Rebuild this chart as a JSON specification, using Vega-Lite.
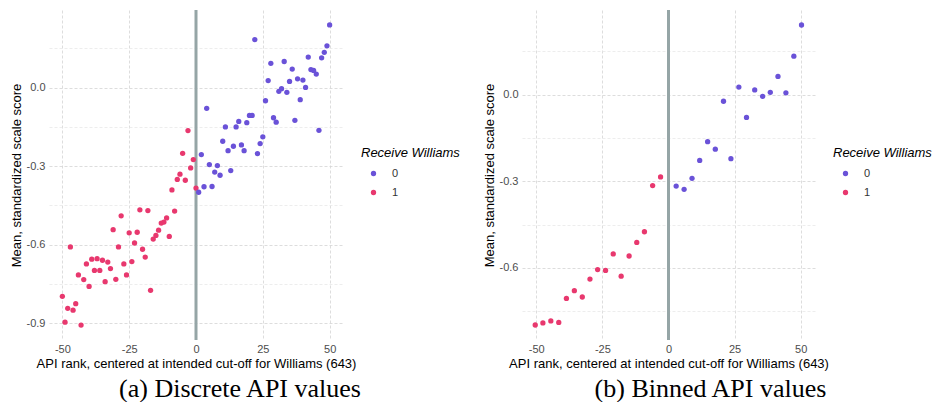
{
  "$schema": "https://vega.github.io/schema/vega-lite/v6.json",
  "padding": {"left": 10, "top": 8, "right": 2, "bottom": 0},
  "background": "white",
  "config": {
    "view": {"stroke": null},
    "font": "Liberation Sans",
    "axis": {
      "domain": false,
      "ticks": false,
      "grid": true,
      "labelColor": "#4d4d4d",
      "labelFontSize": 11,
      "labelFont": "Liberation Sans",
      "titleFont": "Liberation Sans",
      "titleFontSize": 13,
      "titleFontWeight": "normal",
      "titleColor": "#000000",
      "gridDash": [3, 2],
      "gridWidth": 0.8
    },
    "legend": {
      "titleFont": "Liberation Sans",
      "titleFontSize": 13,
      "titleFontStyle": "italic",
      "titleFontWeight": "normal",
      "titleColor": "#000000",
      "labelFont": "Liberation Sans",
      "labelFontSize": 11,
      "labelColor": "#333333",
      "symbolSize": 28,
      "symbolType": "circle",
      "rowPadding": 7,
      "titlePadding": 8,
      "symbolOffset": 7,
      "labelOffset": 13
    }
  },
  "resolve": {"scale": {"color": "independent"}, "legend": {"color": "independent"}},
  "datasets": {
    "discrete": [
      {"api": -50, "score": -0.798, "williams": "1"},
      {"api": -49, "score": -0.897, "williams": "1"},
      {"api": -48, "score": -0.844, "williams": "1"},
      {"api": -47, "score": -0.609, "williams": "1"},
      {"api": -46, "score": -0.851, "williams": "1"},
      {"api": -45, "score": -0.826, "williams": "1"},
      {"api": -44, "score": -0.716, "williams": "1"},
      {"api": -43, "score": -0.908, "williams": "1"},
      {"api": -42, "score": -0.734, "williams": "1"},
      {"api": -41, "score": -0.674, "williams": "1"},
      {"api": -40, "score": -0.760, "williams": "1"},
      {"api": -39, "score": -0.656, "williams": "1"},
      {"api": -38, "score": -0.699, "williams": "1"},
      {"api": -37, "score": -0.654, "williams": "1"},
      {"api": -36, "score": -0.699, "williams": "1"},
      {"api": -35, "score": -0.660, "williams": "1"},
      {"api": -34, "score": -0.742, "williams": "1"},
      {"api": -33, "score": -0.667, "williams": "1"},
      {"api": -32, "score": -0.692, "williams": "1"},
      {"api": -31, "score": -0.543, "williams": "1"},
      {"api": -30, "score": -0.733, "williams": "1"},
      {"api": -29, "score": -0.609, "williams": "1"},
      {"api": -28, "score": -0.490, "williams": "1"},
      {"api": -27, "score": -0.674, "williams": "1"},
      {"api": -26, "score": -0.716, "williams": "1"},
      {"api": -25, "score": -0.555, "williams": "1"},
      {"api": -24, "score": -0.665, "williams": "1"},
      {"api": -23, "score": -0.594, "williams": "1"},
      {"api": -22, "score": -0.553, "williams": "1"},
      {"api": -21, "score": -0.467, "williams": "1"},
      {"api": -20, "score": -0.618, "williams": "1"},
      {"api": -19, "score": -0.648, "williams": "1"},
      {"api": -18, "score": -0.470, "williams": "1"},
      {"api": -17, "score": -0.775, "williams": "1"},
      {"api": -16, "score": -0.579, "williams": "1"},
      {"api": -15, "score": -0.565, "williams": "1"},
      {"api": -14, "score": -0.545, "williams": "1"},
      {"api": -13, "score": -0.518, "williams": "1"},
      {"api": -12, "score": -0.514, "williams": "1"},
      {"api": -11, "score": -0.498, "williams": "1"},
      {"api": -10, "score": -0.569, "williams": "1"},
      {"api": -9, "score": -0.391, "williams": "1"},
      {"api": -8, "score": -0.472, "williams": "1"},
      {"api": -7, "score": -0.351, "williams": "1"},
      {"api": -6, "score": -0.331, "williams": "1"},
      {"api": -5, "score": -0.251, "williams": "1"},
      {"api": -4, "score": -0.354, "williams": "1"},
      {"api": -3, "score": -0.164, "williams": "1"},
      {"api": -2, "score": -0.307, "williams": "1"},
      {"api": -1, "score": -0.275, "williams": "1"},
      {"api": 0, "score": -0.384, "williams": "1"},
      {"api": 1, "score": -0.400, "williams": "0"},
      {"api": 2, "score": -0.256, "williams": "0"},
      {"api": 3, "score": -0.379, "williams": "0"},
      {"api": 4, "score": -0.079, "williams": "0"},
      {"api": 5, "score": -0.294, "williams": "0"},
      {"api": 6, "score": -0.378, "williams": "0"},
      {"api": 7, "score": -0.323, "williams": "0"},
      {"api": 8, "score": -0.298, "williams": "0"},
      {"api": 9, "score": -0.335, "williams": "0"},
      {"api": 10, "score": -0.205, "williams": "0"},
      {"api": 11, "score": -0.150, "williams": "0"},
      {"api": 12, "score": -0.241, "williams": "0"},
      {"api": 13, "score": -0.317, "williams": "0"},
      {"api": 14, "score": -0.224, "williams": "0"},
      {"api": 15, "score": -0.150, "williams": "0"},
      {"api": 16, "score": -0.129, "williams": "0"},
      {"api": 17, "score": -0.219, "williams": "0"},
      {"api": 18, "score": -0.241, "williams": "0"},
      {"api": 19, "score": -0.134, "williams": "0"},
      {"api": 20, "score": -0.106, "williams": "0"},
      {"api": 21, "score": -0.106, "williams": "0"},
      {"api": 22, "score": 0.184, "williams": "0"},
      {"api": 23, "score": -0.252, "williams": "0"},
      {"api": 24, "score": -0.214, "williams": "0"},
      {"api": 25, "score": -0.188, "williams": "0"},
      {"api": 26, "score": -0.050, "williams": "0"},
      {"api": 27, "score": 0.027, "williams": "0"},
      {"api": 28, "score": 0.093, "williams": "0"},
      {"api": 29, "score": -0.115, "williams": "0"},
      {"api": 30, "score": -0.132, "williams": "0"},
      {"api": 31, "score": -0.014, "williams": "0"},
      {"api": 32, "score": -0.004, "williams": "0"},
      {"api": 33, "score": 0.100, "williams": "0"},
      {"api": 34, "score": -0.018, "williams": "0"},
      {"api": 35, "score": 0.024, "williams": "0"},
      {"api": 36, "score": 0.071, "williams": "0"},
      {"api": 37, "score": -0.125, "williams": "0"},
      {"api": 38, "score": 0.034, "williams": "0"},
      {"api": 39, "score": -0.046, "williams": "0"},
      {"api": 40, "score": 0.029, "williams": "0"},
      {"api": 41, "score": 0.001, "williams": "0"},
      {"api": 42, "score": 0.117, "williams": "0"},
      {"api": 43, "score": 0.069, "williams": "0"},
      {"api": 44, "score": 0.066, "williams": "0"},
      {"api": 45, "score": 0.052, "williams": "0"},
      {"api": 46, "score": -0.163, "williams": "0"},
      {"api": 47, "score": 0.114, "williams": "0"},
      {"api": 48, "score": 0.135, "williams": "0"},
      {"api": 49, "score": 0.160, "williams": "0"},
      {"api": 50, "score": 0.240, "williams": "0"}
    ],
    "binned": [
      {"api": -50.4, "score": -0.798, "williams": "1"},
      {"api": -47.5, "score": -0.791, "williams": "1"},
      {"api": -44.5, "score": -0.784, "williams": "1"},
      {"api": -41.5, "score": -0.789, "williams": "1"},
      {"api": -38.6, "score": -0.706, "williams": "1"},
      {"api": -35.6, "score": -0.679, "williams": "1"},
      {"api": -32.6, "score": -0.701, "williams": "1"},
      {"api": -29.7, "score": -0.639, "williams": "1"},
      {"api": -26.8, "score": -0.606, "williams": "1"},
      {"api": -23.8, "score": -0.609, "williams": "1"},
      {"api": -20.9, "score": -0.552, "williams": "1"},
      {"api": -17.9, "score": -0.629, "williams": "1"},
      {"api": -14.9, "score": -0.559, "williams": "1"},
      {"api": -12.0, "score": -0.512, "williams": "1"},
      {"api": -9.1, "score": -0.475, "williams": "1"},
      {"api": -6.0, "score": -0.315, "williams": "1"},
      {"api": -3.0, "score": -0.285, "williams": "1"},
      {"api": 2.9, "score": -0.317, "williams": "0"},
      {"api": 5.9, "score": -0.328, "williams": "0"},
      {"api": 8.9, "score": -0.290, "williams": "0"},
      {"api": 11.8, "score": -0.228, "williams": "0"},
      {"api": 14.8, "score": -0.163, "williams": "0"},
      {"api": 17.7, "score": -0.189, "williams": "0"},
      {"api": 20.8, "score": -0.023, "williams": "0"},
      {"api": 23.6, "score": -0.222, "williams": "0"},
      {"api": 26.6, "score": 0.026, "williams": "0"},
      {"api": 29.5, "score": -0.079, "williams": "0"},
      {"api": 32.6, "score": 0.016, "williams": "0"},
      {"api": 35.6, "score": -0.006, "williams": "0"},
      {"api": 38.5, "score": 0.008, "williams": "0"},
      {"api": 41.4, "score": 0.063, "williams": "0"},
      {"api": 44.4, "score": 0.006, "williams": "0"},
      {"api": 47.4, "score": 0.133, "williams": "0"},
      {"api": 50.3, "score": 0.241, "williams": "0"}
    ],
    "cutoff": [{"api": 0}]
  },
  "spacing": 23,
  "hconcat": [
    {
      "width": 294,
      "height": 330,
      "title": {"text": "(a) Discrete API values", "orient": "bottom", "anchor": "middle", "frame": "group", "dx": 44, "offset": 6, "font": "Liberation Serif", "fontSize": 26, "fontWeight": "normal", "color": "#000000"},
      "layer": [
        {
          "data": {"name": "discrete"},
          "mark": {"type": "circle", "size": 28, "opacity": 0},
          "encoding": {
            "x": {
              "field": "api", "type": "quantitative",
              "scale": {"domain": [-55, 55], "nice": false, "zero": false},
              "axis": {
                "title": "API rank, centered at intended cut-off for Williams (643)",
                "values": [-50, -37.5, -25, -12.5, 0, 12.5, 25, 37.5, 50],
                "labelExpr": "datum.value % 25 == 0 ? replace(format(datum.value, 'd'), '\u2212', '-') : ''",
                "labelPadding": 3,
                "titlePadding": 3,
                "grid": true,
                "gridColor": {"condition": {"test": "datum.value % 25 == 0", "value": "#d4d4d4"}, "value": "#e8e8e8"}
              }
            },
            "y": {
              "field": "score", "type": "quantitative",
              "scale": {"domain": [-0.965, 0.297], "nice": false, "zero": false},
              "axis": {
                "title": "Mean, standardized scale score",
                "values": [-0.9, -0.75, -0.6, -0.45, -0.3, -0.15, 0, 0.15],
                "labelExpr": "abs(datum.value * 10 - round(datum.value * 10)) < 0.01 ? replace(format(datum.value, '.1f'), '\u2212', '-') : ''",
                "labelPadding": 4,
                "titlePadding": 3,
                "grid": true,
                "gridColor": {"condition": {"test": "abs(datum.value * 10 - round(datum.value * 10)) < 0.01", "value": "#d4d4d4"}, "value": "#e8e8e8"}
              }
            }
          }
        },
        {
          "data": {"name": "cutoff"},
          "mark": {"type": "rule", "color": "#95a5a6", "strokeWidth": 3},
          "encoding": {"x": {"field": "api", "type": "quantitative"}}
        },
        {
          "data": {"name": "discrete"},
          "mark": {"type": "circle", "size": 28, "opacity": 1},
          "encoding": {
            "x": {"field": "api", "type": "quantitative"},
            "y": {"field": "score", "type": "quantitative"},
            "color": {
              "field": "williams", "type": "nominal",
              "scale": {"domain": ["0", "1"], "range": ["#6a52d8", "#e8386e"]},
              "legend": {"title": "Receive Williams", "orient": "none", "legendX": 312, "legendY": 137}
            }
          }
        }
      ]
    },
    {
      "width": 293,
      "height": 330,
      "title": {"text": "(b) Binned API values", "orient": "bottom", "anchor": "middle", "frame": "group", "dx": 42, "offset": 6, "font": "Liberation Serif", "fontSize": 26, "fontWeight": "normal", "color": "#000000"},
      "layer": [
        {
          "data": {"name": "binned"},
          "mark": {"type": "circle", "size": 28, "opacity": 0},
          "encoding": {
            "x": {
              "field": "api", "type": "quantitative",
              "scale": {"domain": [-55.4, 55.4], "nice": false, "zero": false},
              "axis": {
                "title": "API rank, centered at intended cut-off for Williams (643)",
                "values": [-50, -37.5, -25, -12.5, 0, 12.5, 25, 37.5, 50],
                "labelExpr": "datum.value % 25 == 0 ? replace(format(datum.value, 'd'), '\u2212', '-') : ''",
                "labelPadding": 3,
                "titlePadding": 3,
                "grid": true,
                "gridColor": {"condition": {"test": "datum.value % 25 == 0", "value": "#d4d4d4"}, "value": "#e8e8e8"}
              }
            },
            "y": {
              "field": "score", "type": "quantitative",
              "scale": {"domain": [-0.850, 0.293], "nice": false, "zero": false},
              "axis": {
                "title": "Mean, standardized scale score",
                "values": [-0.75, -0.6, -0.45, -0.3, -0.15, 0, 0.15],
                "labelExpr": "abs(datum.value * 10 - round(datum.value * 10)) < 0.01 ? replace(format(datum.value, '.1f'), '\u2212', '-') : ''",
                "labelPadding": 4,
                "titlePadding": 3,
                "grid": true,
                "gridColor": {"condition": {"test": "abs(datum.value * 10 - round(datum.value * 10)) < 0.01", "value": "#d4d4d4"}, "value": "#e8e8e8"}
              }
            }
          }
        },
        {
          "data": {"name": "cutoff"},
          "mark": {"type": "rule", "color": "#95a5a6", "strokeWidth": 3},
          "encoding": {"x": {"field": "api", "type": "quantitative"}}
        },
        {
          "data": {"name": "binned"},
          "mark": {"type": "circle", "size": 28, "opacity": 1},
          "encoding": {
            "x": {"field": "api", "type": "quantitative"},
            "y": {"field": "score", "type": "quantitative"},
            "color": {
              "field": "williams", "type": "nominal",
              "scale": {"domain": ["0", "1"], "range": ["#6a52d8", "#e8386e"]},
              "legend": {"title": "Receive Williams", "orient": "none", "legendX": 311, "legendY": 137}
            }
          }
        }
      ]
    }
  ]
}
